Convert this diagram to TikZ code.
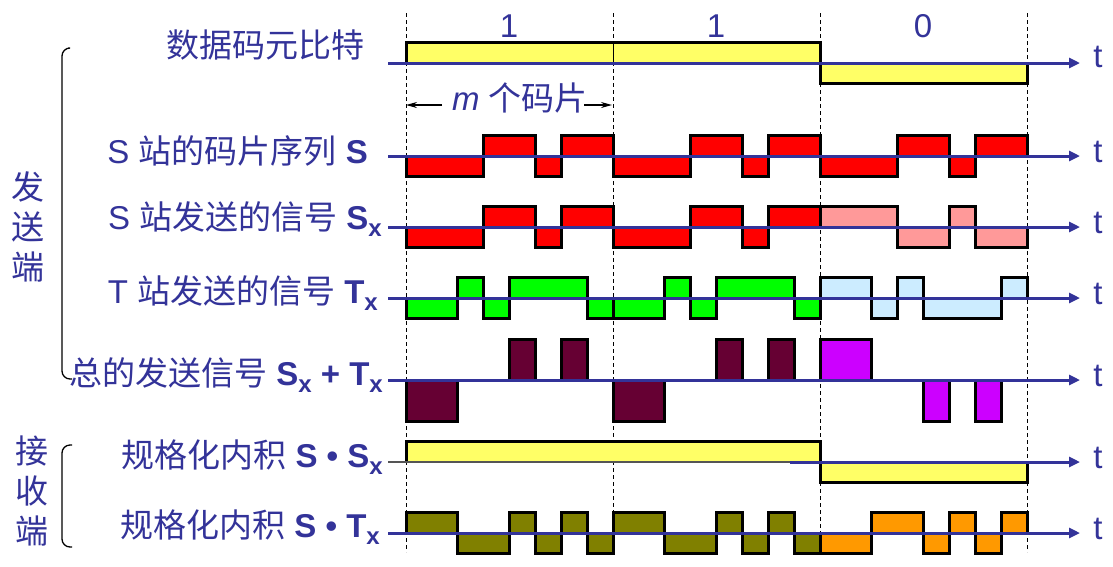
\documentclass[tikz,border=0pt]{standalone}
\usepackage{fontspec}
\setmainfont{Liberation Sans}
\newfontfamily\cjk{Noto Sans CJK SC}
\usetikzlibrary{arrows.meta}
\definecolor{txtblue}{HTML}{333399}
\definecolor{axblue}{HTML}{333399}
\definecolor{cyel}{HTML}{FFFF66}
\definecolor{cred}{HTML}{FF0000}
\definecolor{cpink}{HTML}{FF9999}
\definecolor{cgreen}{HTML}{00FF00}
\definecolor{clblue}{HTML}{CCECFF}
\definecolor{cmaroon}{HTML}{660033}
\definecolor{cmag}{HTML}{CC00FF}
\definecolor{colive}{HTML}{808000}
\definecolor{corange}{HTML}{FF9900}
\definecolor{cgrey}{HTML}{555555}

\newcommand\chipw{25.875}
\newcommand\ampl{20.5}
% #1 axis y, #2 start x, #3 colour, #4 list of 8 chip values
\newcommand\wfill[4]{%
  \fill[#3] (#2,#1) \foreach \v [count=\i from 0] in {#4} { -- ({#2+\i*\chipw},{#1-(\v)*\ampl}) -- ({#2+(\i+1)*\chipw},{#1-(\v)*\ampl}) } -- ({#2+8*\chipw},#1) -- cycle;}
% outline of one bit: #1 axis y, #2 start x, #3 list of 8 chip values
\newcommand\wbit[3]{%
  \draw[waveline] (#2,#1) \foreach \v [count=\i from 0] in {#3} { -- ({#2+\i*\chipw},{#1-(\v)*\ampl}) -- ({#2+(\i+1)*\chipw},{#1-(\v)*\ampl}) } -- ({#2+8*\chipw},#1);}
% outline of a whole row: #1 axis y, #2 list of 24 chip values
\newcommand\wline[2]{%
  \draw[waveline] (406,#1) \foreach \v [count=\i from 0] in {#2} { -- ({406+\i*\chipw},{#1-(\v)*\ampl}) -- ({406+(\i+1)*\chipw},{#1-(\v)*\ampl}) } -- ({406+24*\chipw},#1);}
\newcommand\sub[1]{\raisebox{-0.24em}{\fontsize{24}{24}\selectfont #1}}

\tikzset{
  waveline/.style={draw=black, line width=3pt},
  axisline/.style={draw=axblue, line width=3pt, -{Triangle[length=11pt,width=10pt]}},
  dashline/.style={draw=black, line width=0.9pt, dash pattern=on 4pt off 3pt},
  lbl/.style={text=txtblue, font=\fontsize{33}{40}\selectfont, anchor=base east, inner sep=0pt},
  vlbl/.style={text=txtblue, font=\cjk\fontsize{33}{40}\selectfont, align=center, inner sep=0pt},
  tlbl/.style={text=txtblue, font=\fontsize{33}{40}\selectfont, anchor=base, inner sep=0pt},
  brk/.style={draw=black, line width=1.3pt, rounded corners=8pt},
  marr/.style={draw=black, line width=1.2pt, -{Stealth[length=11pt,width=6pt]}},
}

\begin{document}
\begin{tikzpicture}[x=1pt,y=-1pt]
\useasboundingbox (0,0) rectangle (1113,566);

% dashed bit boundaries
\foreach \xx in {406,613,820,1027} { \draw[dashline] (\xx,13) -- (\xx,552); }

% ---- fills ----
% data bits
\wfill{63}{406}{cyel}{1,1,1,1,1,1,1,1}
\wfill{63}{613}{cyel}{1,1,1,1,1,1,1,1}
\wfill{63}{820}{cyel}{-1,-1,-1,-1,-1,-1,-1,-1}
% S chips
\wfill{156}{406}{cred}{-1,-1,-1,1,1,-1,1,1}
\wfill{156}{613}{cred}{-1,-1,-1,1,1,-1,1,1}
\wfill{156}{820}{cred}{-1,-1,-1,1,1,-1,1,1}
% Sx
\wfill{227}{406}{cred}{-1,-1,-1,1,1,-1,1,1}
\wfill{227}{613}{cred}{-1,-1,-1,1,1,-1,1,1}
\wfill{227}{820}{cpink}{1,1,1,-1,-1,1,-1,-1}
% Tx
\wfill{298}{406}{cgreen}{-1,-1,1,-1,1,1,1,-1}
\wfill{298}{613}{cgreen}{-1,-1,1,-1,1,1,1,-1}
\wfill{298}{820}{clblue}{1,1,-1,1,-1,-1,-1,1}
% Sx+Tx
\wfill{380}{406}{cmaroon}{-2,-2,0,0,2,0,2,0}
\wfill{380}{613}{cmaroon}{-2,-2,0,0,2,0,2,0}
\wfill{380}{820}{cmag}{2,2,0,0,-2,0,-2,0}
% S.Sx
\wfill{462}{406}{cyel}{1,1,1,1,1,1,1,1}
\wfill{462}{613}{cyel}{1,1,1,1,1,1,1,1}
\wfill{462}{820}{cyel}{-1,-1,-1,-1,-1,-1,-1,-1}
% S.Tx
\wfill{533}{406}{colive}{1,1,-1,-1,1,-1,1,-1}
\wfill{533}{613}{colive}{1,1,-1,-1,1,-1,1,-1}
\wfill{533}{820}{corange}{-1,-1,1,1,-1,1,-1,1}

% line through the data box at the bit boundary
\draw[black, line width=0.9pt] (613,43) -- (613,63);

% ---- outlines ----
\wline{63}{1,1,1,1,1,1,1,1,1,1,1,1,1,1,1,1,-1,-1,-1,-1,-1,-1,-1,-1}
\wbit{156}{406}{-1,-1,-1,1,1,-1,1,1}
\wbit{156}{613}{-1,-1,-1,1,1,-1,1,1}
\wbit{156}{820}{-1,-1,-1,1,1,-1,1,1}
\wbit{227}{406}{-1,-1,-1,1,1,-1,1,1}
\wbit{227}{613}{-1,-1,-1,1,1,-1,1,1}
\wbit{227}{820}{1,1,1,-1,-1,1,-1,-1}
\wbit{298}{406}{-1,-1,1,-1,1,1,1,-1}
\wbit{298}{613}{-1,-1,1,-1,1,1,1,-1}
\wbit{298}{820}{1,1,-1,1,-1,-1,-1,1}
\wbit{380}{406}{-2,-2,0,0,2,0,2,0}
\wbit{380}{613}{-2,-2,0,0,2,0,2,0}
\wbit{380}{820}{2,2,0,0,-2,0,-2,0}
\wline{462}{1,1,1,1,1,1,1,1,1,1,1,1,1,1,1,1,-1,-1,-1,-1,-1,-1,-1,-1}
\wbit{533}{406}{1,1,-1,-1,1,-1,1,-1}
\wbit{533}{613}{1,1,-1,-1,1,-1,1,-1}
\wbit{533}{820}{-1,-1,1,1,-1,1,-1,1}

% ---- time axes ----
\coordinate (a0s) at (388,63);  \coordinate (a0e) at (1080,63);
\coordinate (a1s) at (388,156); \coordinate (a1e) at (1080,156);
\coordinate (a2s) at (388,227); \coordinate (a2e) at (1080,227);
\coordinate (a3s) at (388,298); \coordinate (a3e) at (1080,298);
\coordinate (a4s) at (388,380); \coordinate (a4e) at (1080,380);
\coordinate (a5s) at (388,462); \coordinate (a5m) at (790,462); \coordinate (a5e) at (1080,462);
\coordinate (a6s) at (388,533); \coordinate (a6e) at (1080,533);
\draw[axisline] (a0s) -- (a0e);
\draw[axisline] (a1s) -- (a1e);
\draw[axisline] (a2s) -- (a2e);
\draw[axisline] (a3s) -- (a3e);
\draw[axisline] (a4s) -- (a4e);
\draw[cgrey, line width=1.5pt] (a5s) -- (a5m);
\draw[axisline] (a5m) -- (a5e);
\draw[axisline] (a6s) -- (a6e);

% t labels
\node[tlbl] (t0) at (1098,67) {t};
\node[tlbl] (t1) at (1098,162) {t};
\node[tlbl] (t2) at (1098,233) {t};
\node[tlbl] (t3) at (1098,304) {t};
\node[tlbl] (t4) at (1098,386) {t};
\node[tlbl] (t5) at (1098,468) {t};
\node[tlbl] (t6) at (1098,539) {t};

% bit values
\node[tlbl] (b1) at (509,37) {1};
\node[tlbl] (b2) at (716,37) {1};
\node[tlbl] (b3) at (923,37) {0};

% m chips
\node[lbl, anchor=base west] (mlab) at (452,110) {\itshape m {\upshape\cjk 个码片}};
\coordinate (mA) at (442,105); \coordinate (mL) at (406,105);
\coordinate (mB) at (584,105); \coordinate (mR) at (612,105);
\draw[marr] (mA) -- (mL);
\draw[marr] (mB) -- (mR);

% row labels
\node[lbl] (l0) at (365,57) {\cjk 数据码元比特};
\node[lbl] (l1) at (368,163) {S {\cjk 站的码片序列} \textbf{S}};
\node[lbl] (l2) at (382,229) {S {\cjk 站发送的信号} \textbf{S\sub{x}}};
\node[lbl] (l3) at (378,303) {T {\cjk 站发送的信号} \textbf{T\sub{x}}};
\node[lbl] (l4) at (383,385) {{\cjk 总的发送信号} \textbf{S\sub{x} + T\sub{x}}};
\node[lbl] (l5) at (383,467) {{\cjk 规格化内积} \textbf{S • S\sub{x}}};
\node[lbl] (l6) at (380,537) {{\cjk 规格化内积} \textbf{S • T\sub{x}}};

% group labels and brackets
\node[vlbl] (send) at (28,227) {发\\送\\端};
\node[vlbl] (recv) at (32,491) {接\\收\\端};
\coordinate (s1) at (68,48); \coordinate (s2) at (62,48); \coordinate (s3) at (62,379); \coordinate (s4) at (72,379);
\draw[brk] (s1) -- (s2) -- (s3) -- (s4);
\coordinate (r1) at (72,445); \coordinate (r2) at (62,445); \coordinate (r3) at (62,547); \coordinate (r4) at (72,547);
\draw[brk] (r1) -- (r2) -- (r3) -- (r4);
\end{tikzpicture}
\end{document}
